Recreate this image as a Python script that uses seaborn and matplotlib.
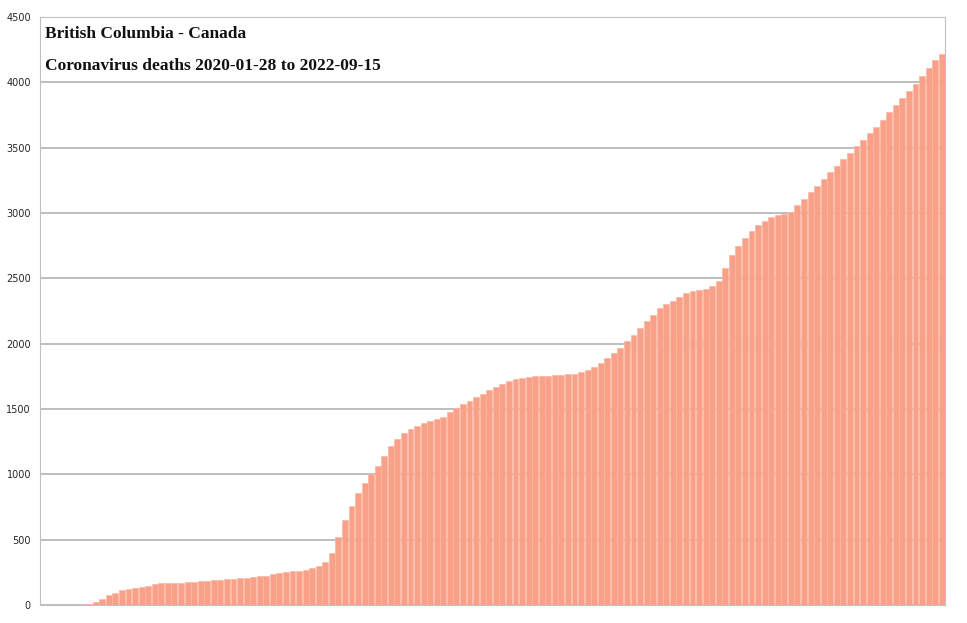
import numpy as np
import pandas as pd
import matplotlib
matplotlib.use("Agg")
import matplotlib.pyplot as plt
import seaborn as sns

# weekly cumulative deaths
weeks = pd.date_range("2020-01-28", periods=138, freq="7D").strftime("%Y-%m-%d")
deaths = [0, 0, 0, 0, 0, 0, 0, 8, 25, 48, 75, 95, 112, 122, 130, 140, 148, 158, 165, 167,
          168, 170, 175, 178, 182, 186, 190, 195, 198, 200, 205, 210, 215, 220, 225, 235, 242, 250, 258, 262,
          270, 280, 300, 330, 400, 520, 650, 760, 860, 930, 1000, 1060, 1140, 1220, 1270, 1320, 1345, 1370, 1390, 1405,
          1420, 1440, 1480, 1505, 1540, 1560, 1590, 1615, 1645, 1670, 1695, 1715, 1730, 1740, 1745, 1750, 1752, 1755, 1757, 1760,
          1765, 1770, 1780, 1795, 1820, 1850, 1890, 1930, 1970, 2020, 2070, 2120, 2170, 2220, 2270, 2300, 2330, 2360, 2385, 2400,
          2410, 2420, 2440, 2480, 2580, 2680, 2750, 2810, 2860, 2910, 2940, 2970, 2985, 2995, 3010, 3060, 3110, 3160, 3210, 3260,
          3310, 3360, 3410, 3460, 3510, 3560, 3610, 3660, 3715, 3770, 3830, 3880, 3935, 3990, 4050, 4110, 4170, 4220]

df = pd.DataFrame({"week": weeks, "deaths": deaths})

sns.set_style("white")
fig = plt.figure(figsize=(9.67, 6.23), dpi=100)
ax = fig.add_axes([40 / 967, 1 - 605 / 623, 905 / 967, 588 / 623])

sns.barplot(data=df, x="week", y="deaths", color="#f9a088", saturation=1,
            width=0.9, edgecolor="#fbb7a4", linewidth=0.5, ax=ax)

ax.set_ylim(0, 4500)
ax.set_xlim(-0.5, len(weeks) - 0.5)
ax.set_yticks(range(0, 4501, 500))
ax.tick_params(axis="y", labelsize=7, length=3, color="#999999")
ax.set_xticks([])
ax.set_xlabel("")
ax.set_ylabel("")
ax.yaxis.grid(True, color="#a0a0a0", linewidth=1.2)
for line in ax.get_ygridlines():
    line.set_zorder(3)
    line.set_alpha(0.8)
for s in ax.spines.values():
    s.set_color("#c0c0c0")

ax.text(0.006, 0.985, "British Columbia - Canada", transform=ax.transAxes,
        va="top", ha="left", fontsize=12.5, family="Liberation Serif",
        fontweight="bold", color="#111111")
ax.text(0.006, 0.93, "Coronavirus deaths 2020-01-28 to 2022-09-15", transform=ax.transAxes,
        va="top", ha="left", fontsize=12.5, family="Liberation Serif",
        fontweight="bold", color="#111111")

fig.savefig("out.png", dpi=100)
